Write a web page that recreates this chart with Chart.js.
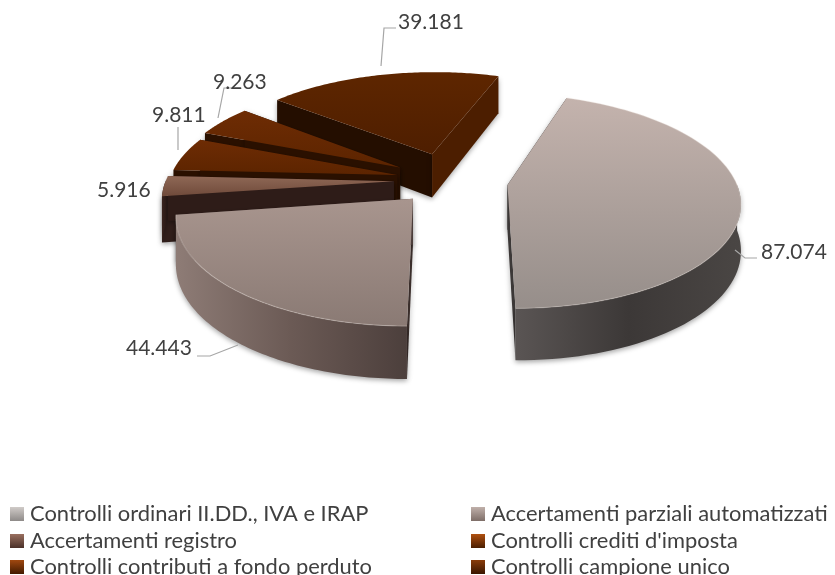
<!DOCTYPE html>
<html><head><meta charset="utf-8">
<style>html,body{margin:0;padding:0;background:#fff;overflow:hidden}canvas{display:block}</style>
<script src="https://cdn.jsdelivr.net/npm/chart.js@4"></script>
</head><body><canvas id="c" width="835" height="575"></canvas>
<script>
const categories = ["Controlli ordinari II.DD., IVA e IRAP","Accertamenti parziali automatizzati","Accertamenti registro","Controlli crediti d'imposta","Controlli contributi a fondo perduto","Controlli campione unico"];
const values = [87074,44443,5916,9811,9263,39181];
const valueLabels = ["87.074","44.443","5.916","9.811","9.263","39.181"];
const explode = [60,52,54,52,56,60];

const topColors = [["#c4b3ad","#968e8a"],["#a8958e","#8a7a74"],["#8f6856","#6f4a3a"],["#6e2c04","#5c2400"],["#6e2c04","#5c2400"],["#5e2600","#4e1e00"]];
const startWall = ["#2a2625","#3a2e2b","#301e1a","#2a1000","#2a1000","#240e00"];
const endWall = ["#3c3837","#4d3f3c","#2e1c18","#2a1000","#2a1000","#4c1e00"];
const outerWall = [["#5a5554","#3c3837","#4a4644"],["#8e7c76","#6b5a55","#4c3f3c"],["#3a241e","#301e1a","#2c1a16"],["#3a1600","#2e1100","#2a1000"],["#3a1600","#2e1100","#2a1000"],["#4c1e00","#4c1e00","#4c1e00"]];
const markerColors = [["#d0cbc8","#8e8a88"],["#c0b0aa","#7e6e68"],["#9a7060","#4a3028"],["#b05010","#4a1e00"],["#a04810","#421a00"],["#8a3c0a","#3a1600"]];
const drawOrder = [5,4,3,2,1,0];
const labelPos = [[761,252],[126,348],[97,190],[152,115],[213,82],[398,22]];
const leaders = [[[735,250],[745,258],[757,258]],[[238,345],[210,356],[197,356]],[],[[178,150],[178,127]],[[218,118],[224,88],[233,88]],[[381,66],[384,28],[396,28]]];
const legendPos = [[10,514],[471,514],[10,541],[471,541],[10,567],[471,567]];
const DEPTH=45,K=0.15,Q=0.465,FONT='Lato, Carlito, sans-serif';

const pie3d={id:'pie3d',beforeDatasetsDraw(chart){
  const ctx=chart.ctx,arcs=chart.getDatasetMeta(0).data;
  for(const i of drawOrder){
    const a=arcs[i],R=a.outerRadius,mid=(a.startAngle+a.endAngle)/2,off=a.options.offset;
    const ox=Math.cos(mid)*off,oy=Math.sin(mid)*off;
    const P=(X,Y,Z)=>{const x=X+ox,y=Y+oy,s=1+K*y/R;return [a.x+x*s,a.y+y*Q*s+Z*s];};
    const rim=[];const n=80;
    for(let j=0;j<=n;j++){const t=a.startAngle+(a.endAngle-a.startAngle)*j/n;rim.push([Math.cos(t)*R,Math.sin(t)*R]);}
    const poly=(pts,fill)=>{ctx.beginPath();pts.forEach((p,k)=>k?ctx.lineTo(p[0],p[1]):ctx.moveTo(p[0],p[1]));ctx.closePath();ctx.fillStyle=fill;ctx.fill();};
    const A0=P(0,0,0),A1=P(0,0,DEPTH);
    const f=rim[0],l=rim[n];
    ctx.save();
    ctx.shadowColor='rgba(0,0,0,0.35)';ctx.shadowBlur=5;ctx.shadowOffsetY=2;
    poly([A0,P(f[0],f[1],0),P(f[0],f[1],DEPTH),A1],startWall[i]);
    poly([A0,P(l[0],l[1],0),P(l[0],l[1],DEPTH),A1],endWall[i]);
    const front=rim.filter(p=>p[1]>-2);
    if(front.length>1){
      const top=front.map(p=>P(p[0],p[1],0)),bot=front.map(p=>P(p[0],p[1],DEPTH)).reverse();
      const xs=top.map(p=>p[0]),minX=Math.min(...xs),maxX=Math.max(...xs);
      const g=ctx.createLinearGradient(minX,0,maxX,0);
      outerWall[i].forEach((c,k)=>g.addColorStop(k/2,c));
      poly(top.concat(bot),g);
    }
    ctx.restore();
    const rimTop=rim.map(p=>P(p[0],p[1],0));
    const face=[A0].concat(rimTop);
    const ys=face.map(p=>p[1]);
    const tg=ctx.createLinearGradient(0,Math.min(...ys),0,Math.max(...ys));
    tg.addColorStop(0,topColors[i][0]);tg.addColorStop(1,topColors[i][1]);
    poly(face,tg);
    if(i<2){ctx.beginPath();rimTop.forEach((p,k)=>k?ctx.lineTo(p[0],p[1]):ctx.moveTo(p[0],p[1]));ctx.strokeStyle='rgba(235,225,220,0.3)';ctx.lineWidth=1.2;ctx.stroke();}
  }
  return false;
},afterDraw(chart){
  const ctx=chart.ctx;
  ctx.save();
  ctx.strokeStyle='#a6a6a6';ctx.lineWidth=1.2;
  leaders.forEach(L=>{if(!L.length)return;ctx.beginPath();L.forEach((p,k)=>k?ctx.lineTo(p[0],p[1]):ctx.moveTo(p[0],p[1]));ctx.stroke();});
  ctx.fillStyle='#404040';ctx.textBaseline='middle';ctx.textAlign='left';
  ctx.font='21px '+FONT;
  valueLabels.forEach((t,i)=>ctx.fillText(t,labelPos[i][0],labelPos[i][1]));
  ctx.font='21.9px '+FONT;
  categories.forEach((t,i)=>{
    const [x,y]=legendPos[i];
    const g=ctx.createLinearGradient(0,y-7,0,y+7);g.addColorStop(0,markerColors[i][0]);g.addColorStop(1,markerColors[i][1]);
    ctx.fillStyle=g;ctx.fillRect(x,y-7,14,14);
    ctx.fillStyle='#404040';ctx.fillText(t,x+20,y);
  });
  ctx.restore();
}};

new Chart(document.getElementById('c'),{type:'pie',
 data:{labels:categories,datasets:[{data:values,offset:explode,radius:228,borderWidth:0,backgroundColor:topColors.map(c=>c[0])}]},
 options:{responsive:false,animation:false,rotation:20,layout:{padding:{left:61,bottom:215}},
  plugins:{legend:{display:false},tooltip:{enabled:false}}},
 plugins:[pie3d]});
</script></body></html>
